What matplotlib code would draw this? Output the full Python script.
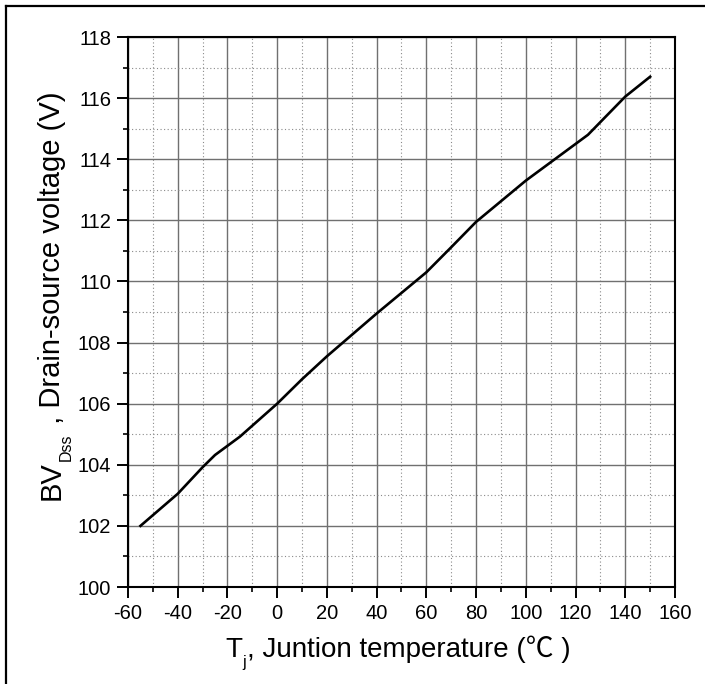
import matplotlib
matplotlib.use('Agg')
import matplotlib.pyplot as plt
from matplotlib.ticker import MultipleLocator

# BVdss vs junction temperature
temp = [-55, -45, -40, -30, -25, -15, 0, 10, 20, 25, 40, 60, 70, 80, 100, 115, 125, 140, 150]
bv = [102.0, 102.7, 103.05, 103.92, 104.32, 104.92, 106.0, 106.8, 107.55, 107.9,
      108.95, 110.3, 111.12, 111.95, 113.3, 114.2, 114.8, 116.05, 116.7]

x_ticks = [-60, -40, -20, 0, 20, 40, 60, 80, 100, 120, 140, 160]
y_ticks = [100, 102, 104, 106, 108, 110, 112, 114, 116, 118]

fam = ['Liberation Sans', 'Noto Sans CJK SC', 'DejaVu Sans']
plt.rcParams['font.family'] = fam
plt.rcParams['axes.unicode_minus'] = False

W, H = 705, 684
fig = plt.figure(figsize=(W / 100, H / 100), dpi=100)
ax = fig.add_axes([128 / W, 1 - 587 / H, 547 / W, 550 / H])

ax.plot(temp, bv, color='black', lw=1.9, zorder=3)

ax.set_xlim(-60, 160)
ax.set_ylim(100, 118)
ax.set_xticks(x_ticks)
ax.set_yticks(y_ticks)
ax.xaxis.set_minor_locator(MultipleLocator(10))
ax.yaxis.set_minor_locator(MultipleLocator(1))

ax.grid(which='major', color='#707070', lw=1.0, ls='-')
ax.grid(which='minor', color='#8a8a8a', lw=0.8, ls=(0, (1, 2.2)))
ax.set_axisbelow(True)

for s in ax.spines.values():
    s.set_linewidth(1.5)
ax.tick_params(which='major', direction='out', length=8, width=1.4,
               labelsize=14.5, pad=4)
ax.tick_params(which='minor', direction='out', length=3.6, width=1.2)

# x label: T_j , Juntion temperature (℃ )
yb = 1 - 657 / H
t1 = fig.text(225 / W, yb, 'T', fontsize=20, ha='left', va='baseline')
t2 = ax.annotate('j', xy=(1, yb), xycoords=(t1, 'figure fraction'),
                 xytext=(0.5, -7.5), textcoords='offset points',
                 fontsize=11.5, ha='left', va='baseline')
ax.annotate(', Juntion temperature (℃ )', xy=(1, yb),
            xycoords=(t2, 'figure fraction'), xytext=(0.5, 0),
            textcoords='offset points', fontsize=20, ha='left', va='baseline')

# y label: BV_Dss , Drain-source voltage (V)
xb = 60 / W
y1 = fig.text(xb, 1 - 500 / H, 'BV', fontsize=21, rotation=90,
              rotation_mode='anchor', ha='left', va='baseline')
y2 = ax.annotate('Dss', xy=(xb, 1), xycoords=('figure fraction', y1),
                 xytext=(7.5, 0.5), textcoords='offset points', fontsize=11.5,
                 rotation=90, rotation_mode='anchor', ha='left', va='baseline')
ax.annotate(' , Drain-source voltage (V)', xy=(xb, 1),
            xycoords=('figure fraction', y2), xytext=(0, 0.5),
            textcoords='offset points', fontsize=21, rotation=90,
            rotation_mode='anchor', ha='left', va='baseline')

# outer frame (top and left edges visible)
fig.add_artist(plt.Line2D([6 / W, 1], [1 - 6 / H, 1 - 6 / H], color='black', lw=1.6))
fig.add_artist(plt.Line2D([6 / W, 6 / W], [0, 1 - 6 / H], color='black', lw=1.6))

fig.savefig('out.png', dpi=100)
